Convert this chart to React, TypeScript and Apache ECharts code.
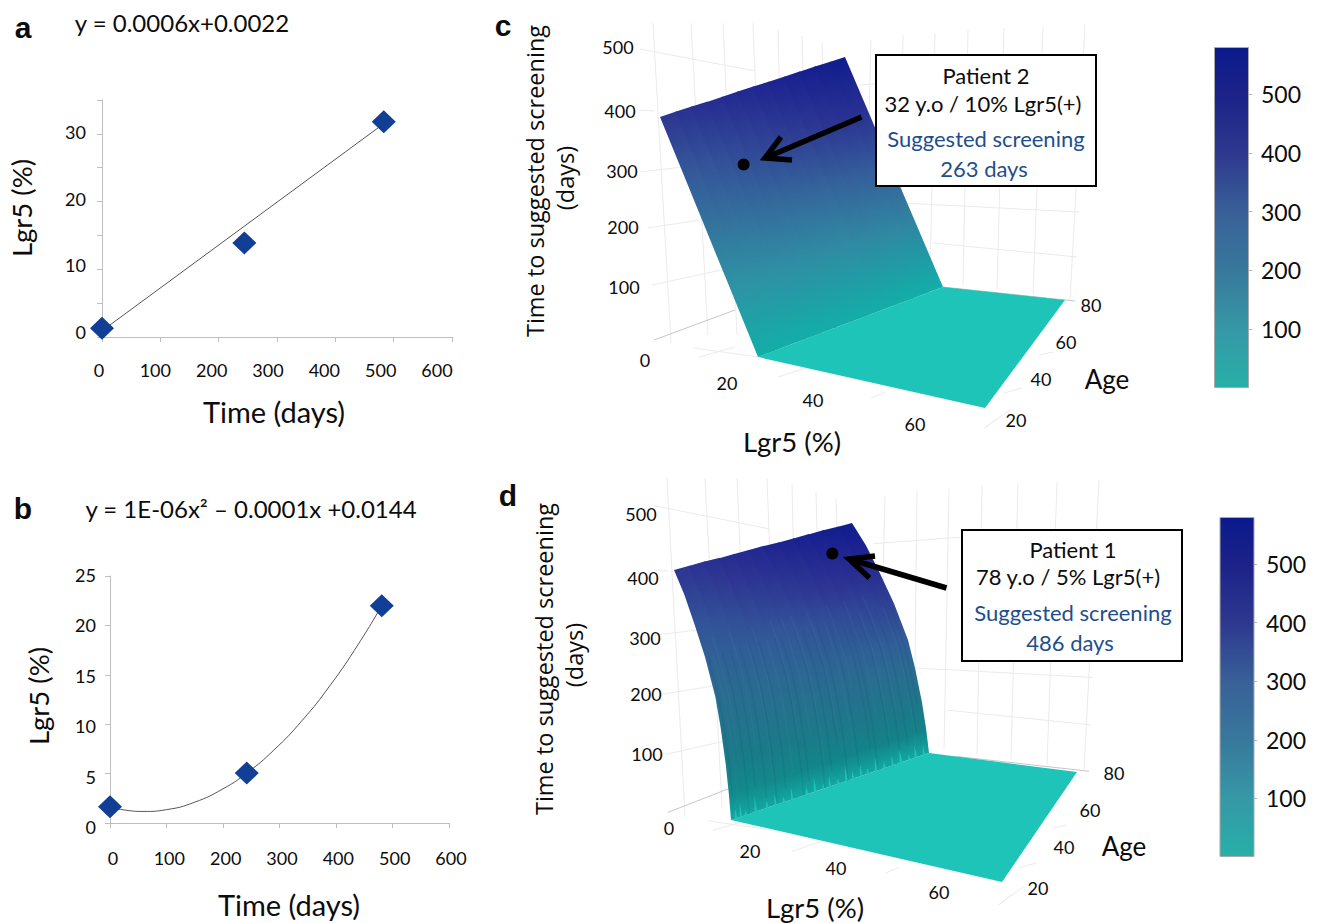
import React, { useEffect, useRef } from "react";
import * as echarts from "echarts";

const W = 1320;
const H = 923;
const SANS = "Lato, 'Open Sans', sans-serif";
const INK = "#0c0c0c";

// ---- panel a ----
const aPoints = [[0, 1.3], [244, 13.9], [483, 31.8]];
const aTrend = [[3, 1.1], [483, 31.5]];
// ---- panel b ----
const bPoints = [[0, 1.65], [242, 5.05], [481, 22]];
const bTrend = [[0, 1.6], [30, 1.28], [60, 1.17], [100, 1.35], [150, 2.11], [200, 3.46], [242, 5.05], [290, 7.38], [340, 10.37], [390, 13.96], [440, 18.14], [481, 22]];

// ---- surfaces ----
const surfaceAges = [20, 25, 30, 35, 40, 45, 50, 55, 60, 65, 70, 75, 80];
const cLgrRows = [1, 6, 11, 16, 22];
const cDays = [
  [395, 301, 207, 113, 0], [409, 312, 214, 117, 0], [423, 322, 222, 121, 0], [436, 332, 228, 125, 0],
  [450, 343, 236, 129, 0], [464, 354, 243, 133, 0], [478, 364, 250, 137, 0], [491, 374, 257, 140, 0],
  [505, 385, 265, 144, 0], [519, 395, 272, 148, 0], [533, 406, 279, 152, 0], [546, 416, 286, 156, 0],
  [560, 427, 293, 160, 0],
];
const dLgrRows = [1, 3, 5, 7, 9, 10, 11, 11.6, 12];
const dDays = [
  [395, 356, 308, 257, 194, 146, 87, 40, 0], [409, 368, 319, 266, 201, 151, 90, 41, 0],
  [423, 381, 330, 275, 208, 156, 93, 43, 0], [436, 393, 340, 284, 214, 161, 96, 44, 0],
  [450, 405, 351, 293, 221, 166, 99, 46, 0], [464, 418, 362, 302, 228, 171, 102, 47, 0],
  [478, 430, 372, 311, 235, 177, 105, 48, 0], [491, 443, 383, 320, 241, 182, 108, 50, 0],
  [505, 455, 394, 329, 248, 187, 111, 51, 0], [519, 467, 404, 337, 255, 192, 114, 53, 0],
  [533, 480, 415, 346, 262, 197, 117, 54, 0], [546, 492, 426, 355, 268, 202, 120, 55, 0],
  [560, 505, 437, 364, 275, 207, 123, 57, 0],
];
const floorLgrMax = 70;
// patient dots as drawn on the surfaces: [Lgr5 %, age, days]
const patient2Dot = [11, 32, 321];
const patient1Dot = [1.6, 72, 482];

// streaks on the wall of panel d: [age, rowFrom, rowTo, tone]
const dStreaks = [
  [21, 3, 7, 0], [22.5, 3, 7.5, 1], [24, 2.5, 6, 1], [25.5, 3, 8, 0], [28, 3, 7, 0], [29.5, 2.5, 6, 1], [31, 3, 7.6, 0],
  [33.5, 3, 7, 1], [34, 3, 8, 0], [36.5, 2.5, 5, 1], [37, 3, 7.5, 0], [39.5, 3, 7, 1], [42, 3, 8, 0], [42.5, 2.5, 6, 1],
  [44, 3, 7.5, 0], [46, 2.5, 6, 1], [48.5, 3, 8, 0], [49, 2.5, 7, 1], [51, 3, 7.4, 0], [53.5, 3, 6.5, 0], [54, 2.5, 6, 1],
  [55.5, 3, 8, 0], [58, 3, 7, 1], [59, 3, 7.6, 0], [60.5, 2.5, 5, 1], [63, 3, 7, 0], [64.5, 3, 8, 0], [66, 2.5, 6, 1],
  [68.5, 3, 7.2, 0], [69, 3, 7.8, 1], [71.5, 3, 8, 0], [72, 2.5, 6, 1], [74, 3, 7.4, 0], [76.5, 3, 8, 1], [77, 3, 7, 0], [78.5, 2.5, 6, 0],
];
// fringe spikes at the wall foot: [age, half width in years, height in rows]
const dSpikes = [
  [21.5, 0.45, 0.35], [23, 0.35, 0.55], [24.5, 0.4, 0.2], [27.5, 0.35, 0.65], [31, 0.45, 0.28], [33.5, 0.35, 0.45],
  [36, 0.45, 0.22], [38.5, 0.35, 0.5], [43, 0.45, 0.3], [45.5, 0.4, 0.6], [48, 0.35, 0.22], [50, 0.35, 0.45],
  [52.5, 0.45, 0.2], [55, 0.35, 0.65], [57, 0.4, 0.34], [59.5, 0.35, 0.5], [61.5, 0.45, 0.24], [64, 0.35, 0.6],
  [66.5, 0.4, 0.3], [69, 0.35, 0.45], [71.5, 0.45, 0.55], [74, 0.35, 0.25], [76, 0.4, 0.5], [78.5, 0.35, 0.4],
];

const colorbarStops = [
  [0, "#0a1a8c"], [0.137, "#1c2288"], [0.31, "#2d388e"], [0.483, "#396098"], [0.655, "#38789c"], [0.828, "#3698a6"], [1, "#27afa8"],
];
const paletteC = [[580, "#0a1a8c"], [500, "#1c2290"], [400, "#2c3592"], [300, "#365a9a"], [200, "#33789e"], [100, "#2d98a6"], [20, "#14aca8"], [0, "#12aea8"]];
const paletteD = [[580, "#0a1a8c"], [500, "#1c2290"], [400, "#2e3592"], [300, "#33589a"], [200, "#2a6c90"], [100, "#1b7a88"], [50, "#128488"], [0, "#12a8a2"]];
const FLOOR = "#1fc4b8";
const GRID3D = "#ebebeb";
const GRID3D_DARK = "#c6c6c6";

// view of each 3D scene: corners of the floor and of the wall's top edge on the page
const cView = { A: [758, 357], B: [943, 287], C: [1065, 300], D: [985, 408], E: [660, 117], F: [845, 57] };
const dView = { A: [731, 820], B: [929, 753], C: [1077, 772], D: [1002, 882], E: [674, 570], F: [852, 523] };

// faint frame of the 3D scene behind the surface in panel c: x1, y1, x2, y2
const sceneLines = [
  [653, 23, 671, 343], [691, 23, 708, 335], [723, 23, 737, 335], [753, 23, 760, 200], [778, 29, 782, 200], [802, 36, 805, 150], [822, 42, 824, 100],
  [871, 40, 865, 275], [903, 35, 900, 280], [935, 33, 930, 280], [968, 30, 963, 285], [1004, 28, 997, 290], [1043, 27, 1033, 295], [1085, 25, 1070, 300],
  [640, 49, 755, 71], [640, 110, 654, 111], [640, 172, 700, 165], [648, 228, 700, 220], [652, 285, 735, 267],
  [860, 85, 960, 78], [901, 203, 1079, 212], [933, 243, 1077, 257],
  [694, 348, 759, 357], [699, 357, 735, 347], [778, 377, 806, 368], [871, 398, 885, 392], [984, 428, 1010, 410],
  [1039, 355, 1053, 352], [1004, 393, 1022, 388], [986, 427, 998, 418],
];
const sceneDarkLines = [[654, 340, 735, 310], [943, 287, 1075, 301]];

const lerp = (a: number, b: number, t: number) => a + (b - a) * t;

// (Lgr5, age, days) -> page position in the scene's view
function makeProjection(view: any, lgrRows: number[], days: number[][]) {
  const lgrMin = lgrRows[0];
  const thr = lgrRows[lgrRows.length - 1];
  const topFirst = days[0][0];
  const topLast = days[days.length - 1][0];
  return (l: number, a: number, d: number) => {
    const v = (a - surfaceAges[0]) / (surfaceAges[surfaceAges.length - 1] - surfaceAges[0]);
    const bx = lerp(view.A[0], view.B[0], v), by = lerp(view.A[1], view.B[1], v);
    if (l >= thr) {
      const u = (l - thr) / (floorLgrMax - thr);
      const ex = lerp(view.D[0], view.C[0], v), ey = lerp(view.D[1], view.C[1], v);
      return [lerp(bx, ex, u), lerp(by, ey, u)];
    }
    const tx = lerp(view.E[0], view.F[0], v), ty = lerp(view.E[1], view.F[1], v);
    return [lerp(bx, tx, (thr - l) / (thr - lgrMin)), lerp(by, ty, d / lerp(topFirst, topLast, v))];
  };
}

function hex(c: string) {
  return [1, 3, 5].map((i) => parseInt(c.slice(i, i + 2), 16));
}
function paletteColor(pal: any[], days: number) {
  for (let i = 0; i < pal.length - 1; i++) {
    const [d1, c1] = pal[i];
    const [d0, c0] = pal[i + 1];
    if (days >= d0 && days <= d1) {
      const t = (days - d0) / (d1 - d0);
      const a = hex(c0), b = hex(c1);
      return `rgb(${a.map((v, k) => Math.round(v + (b[k] - v) * t)).join(",")})`;
    }
  }
  return pal[0][1];
}

function wallPoint(project: any, lgrRows: number[], days: number[][], age: number, row: number) {
  const cf = Math.min(surfaceAges.length - 1.001, Math.max(0, (age - surfaceAges[0]) / 5));
  const c = Math.floor(cf), ct = cf - c;
  const r = Math.min(lgrRows.length - 2, Math.floor(row)), rt = row - r;
  const dval = (cc: number) => days[cc][r] + (days[cc][r + 1] - days[cc][r]) * rt;
  const lgr = lgrRows[r] + (lgrRows[r + 1] - lgrRows[r]) * rt;
  return project(Math.min(lgr, lgrRows[lgrRows.length - 1] - 1e-6), age, dval(c) + (dval(c + 1) - dval(c)) * ct);
}

function surfaceSeries(view: any, lgrRows: number[], days: number[][], palette: any[], dot: number[], streaks?: number[][], spikes?: number[][]) {
  const project = makeProjection(view, lgrRows, days);
  const thr = lgrRows[lgrRows.length - 1];
  const surface = (api: any) => {
    const kids: any[] = [];
    const P = (l: number, a: number, d: number) => api.coord(project(l, a, d));
    const W0 = (i: number, r: number) => api.coord(wallPoint(project, lgrRows, days, surfaceAges[i], r));
    const floorPts = [P(thr, 20, 0), P(thr, 80, 0), P(floorLgrMax, 80, 0), P(floorLgrMax, 20, 0)];
    kids.push({ type: "polygon", shape: { points: floorPts }, style: { fill: FLOOR }, silent: true });
    const lastStrip = surfaceAges.length - 2;
    for (let i = 0; i <= lastStrip; i++) {
      const left = lgrRows.map((_l, r) => W0(i, r));
      const right = lgrRows.map((_l, r) => W0(i + 1, r));
      const mids = left.map((p: number[], r: number) => [(p[0] + right[r][0]) / 2, (p[1] + right[r][1]) / 2]);
      const dx = right[0][0] - left[0][0], dy = right[0][1] - left[0][1];
      const len = Math.hypot(dx, dy) || 1;
      let nx = -dy / len, ny = dx / len;
      if (ny < 0) { nx = -nx; ny = -ny; }
      const ts = mids.map((m: number[]) => (m[0] - mids[0][0]) * nx + (m[1] - mids[0][1]) * ny);
      const T = ts[ts.length - 1] || 1;
      const colorStops = ts.map((t: number, r: number) => ({
        offset: Math.max(0, Math.min(1, t / T)),
        color: paletteColor(palette, (days[i][r] + days[i + 1][r]) / 2),
      }));
      const grad = { type: "linear", x: mids[0][0], y: mids[0][1], x2: mids[0][0] + nx * T, y2: mids[0][1] + ny * T, global: true, colorStops };
      // each strip runs a little under the next one, so that no seam shows between them
      const overlap = i < lastStrip ? 1.5 : 0;
      const rightEdge = right.map((p: number[]) => [p[0] + overlap, p[1] - overlap * 0.35]).reverse();
      kids.push({
        type: "polygon",
        shape: { points: [...left, ...rightEdge] },
        style: { fill: grad },
        silent: true,
      });
    }
    for (const [age, from, to, tone] of streaks || []) {
      const pts: number[][] = [];
      for (let r = from; r < to; r += 0.5) pts.push(api.coord(wallPoint(project, lgrRows, days, age, r)));
      pts.push(api.coord(wallPoint(project, lgrRows, days, age, to)));
      kids.push({
        type: "polyline",
        shape: { points: pts },
        style: { stroke: tone ? "#4f8fb4" : "#0c4060", opacity: 0.1, lineWidth: 1.6, fill: "none" },
        silent: true,
      });
    }
    const last = lgrRows.length - 1;
    for (const [age, hw, h] of spikes || []) {
      kids.push({
        type: "polygon",
        shape: {
          points: [
            api.coord(wallPoint(project, lgrRows, days, age - hw, last)),
            api.coord(wallPoint(project, lgrRows, days, age, last - h)),
            api.coord(wallPoint(project, lgrRows, days, age + hw, last)),
          ],
        },
        style: { fill: "#1cc4b8" },
        silent: true,
      });
    }
    const d = P(dot[0], dot[1], dot[2]);
    kids.push({ type: "circle", shape: { cx: d[0], cy: d[1], r: 6 }, style: { fill: "#000" }, silent: true });
    return { type: "group", children: kids };
  };
  return [
    { type: "custom", xAxisIndex: 6, yAxisIndex: 6, clip: false, z: 2, data: [[0, 0]], renderItem: (_: any, api: any) => surface(api) },
  ];
}

const tickAxis = (gridIndex: number, min: number, max: number, interval: number) => ({
  gridIndex, type: "value", min, max, interval,
  axisLine: { show: true, onZero: false, lineStyle: { color: "#bdbdbd", width: 1 } },
  axisTick: { show: true, inside: false, length: 5, lineStyle: { color: "#bdbdbd" } },
  axisLabel: { show: false },
  splitLine: { show: false },
});
const labelAxis = (gridIndex: number, min: number, max: number, interval: number, margin: number) => ({
  gridIndex, type: "value", min, max, interval,
  axisLine: { show: false },
  axisTick: { show: false },
  axisLabel: { show: true, margin, color: INK, fontFamily: SANS, fontSize: 18, hideOverlap: false, showMinLabel: true, showMaxLabel: true },
  splitLine: { show: false },
});
const box = (x0: number, x1: number, y0: number, y1: number) => ({ left: x0, width: x1 - x0, top: y0, height: y1 - y0, containLabel: false });

const barTicks = [100, 200, 300, 400, 500];
const barAxis = (gridIndex: number) => ({
  gridIndex, type: "value", min: 0, max: 580, position: "right",
  axisLine: { show: false },
  axisTick: { show: true, length: 3, customValues: barTicks, lineStyle: { color: "#b5b5b5" } },
  axisLabel: { margin: 12, color: INK, fontFamily: SANS, fontSize: 23, customValues: barTicks },
  splitLine: { show: false },
});
const colorbar = (idx: number) => ({
  type: "bar", xAxisIndex: idx, yAxisIndex: idx, barWidth: 35, data: [580],
  itemStyle: {
    borderColor: "#a9a9a9", borderWidth: 1,
    color: { type: "linear", x: 0, y: 0, x2: 0, y2: 1, colorStops: colorbarStops.map(([offset, color]) => ({ offset, color })) },
  },
});

const text = (t: string, x: number, y: number, fontSize: number, extra: any = {}) => ({
  type: "text", x, y, z: 100, rotation: extra.rotation || 0, silent: true,
  style: { text: t, fontSize, fontFamily: extra.family || SANS, fontWeight: extra.weight || "normal", fill: extra.fill || INK, align: "center", verticalAlign: "middle" },
});
const BLUE = "#1f4e8c";
const arrow = (pts: number[][]) => ({ type: "polyline", z: 99, silent: true, shape: { points: pts }, style: { stroke: "#000", lineWidth: 5.5, fill: "none" } });
const sceneLine = (l: number[], stroke: string, map: (x: number, y: number) => number[]) => {
  const [x1, y1] = map(l[0], l[1]);
  const [x2, y2] = map(l[2], l[3]);
  return { type: "line", z: 0, silent: true, shape: { x1, y1, x2, y2 }, style: { stroke, lineWidth: 1 } };
};
const sameFrame = (x: number, y: number) => [x, y];
const frameD = (x: number, y: number) => [x + 14, 454 + 1.054 * y];

const titleFamily = "'Open Sans', sans-serif";
const bold = { weight: "bold", family: "'Liberation Sans', sans-serif" };
const graphics = [
  ...sceneLines.map((l) => sceneLine(l, GRID3D, sameFrame)),
  ...sceneDarkLines.map((l) => sceneLine(l, GRID3D_DARK, sameFrame)),
  ...sceneLines.map((l) => sceneLine(l, GRID3D, frameD)),
  ...sceneDarkLines.map((l) => sceneLine(l, GRID3D_DARK, frameD)),
  text("a", 23, 27, 30, bold),
  text("b", 23, 508, 30, bold),
  text("c", 503, 25, 30, bold),
  text("d", 508, 495, 30, bold),
  text("y = 0.0006x+0.0022", 182, 22, 24),
  text("y = 1E-06x² – 0.0001x +0.0144", 251, 508, 24),
  text("Time (days)", 274, 411, 29),
  text("Lgr5 (%)", 21, 208, 27.5, { rotation: Math.PI / 2 }),
  text("Time (days)", 289, 904, 29),
  text("Lgr5 (%)", 38, 696, 27.5, { rotation: Math.PI / 2 }),
  // panel c axes
  ...[["500", 618, 47], ["400", 620, 111], ["300", 622, 171], ["200", 623, 227], ["100", 624, 287], ["0", 645, 360], ["20", 727, 383], ["40", 813, 400], ["60", 915, 424], ["80", 1091, 305], ["60", 1066, 342], ["40", 1041, 379], ["20", 1016, 420]].map(([t, x, y]: any) => text(t, x, y, 18)),
  text("Age", 1107, 379, 26),
  text("Lgr5 (%)", 792, 441, 27.5),
  text("Time to suggested screening", 535, 181, 23.5, { rotation: Math.PI / 2, family: titleFamily }),
  text("(days)", 565, 178, 23.5, { rotation: Math.PI / 2, family: titleFamily }),
  // panel d axes
  ...[["500", 641, 514], ["400", 643, 578], ["300", 645, 638], ["200", 646, 694], ["100", 647, 754], ["0", 669, 828], ["20", 750, 851], ["40", 836, 868], ["60", 939, 892], ["80", 1114, 773], ["60", 1090, 810], ["40", 1064, 847], ["20", 1038, 888]].map(([t, x, y]: any) => text(t, x, y, 18)),
  text("Age", 1124, 846, 26),
  text("Lgr5 (%)", 815, 907, 27.5),
  text("Time to suggested screening", 544, 659, 23.5, { rotation: Math.PI / 2, family: titleFamily }),
  text("(days)", 574, 655, 23.5, { rotation: Math.PI / 2, family: titleFamily }),
  // callouts
  { type: "rect", z: 98, silent: true, shape: { x: 876, y: 55, width: 220, height: 131 }, style: { fill: "#fff", stroke: "#000", lineWidth: 2 } },
  text("Patient 2", 986, 75, 22),
  text("32 y.o / 10% Lgr5(+)", 983, 103, 22),
  text("Suggested screening", 986, 138, 22, { fill: BLUE }),
  text("263 days", 984, 168, 22, { fill: BLUE }),
  arrow([[861.5, 117], [765, 158]]),
  arrow([[781, 137], [765, 158], [792, 160]]),
  { type: "rect", z: 98, silent: true, shape: { x: 962, y: 530, width: 220, height: 131 }, style: { fill: "#fff", stroke: "#000", lineWidth: 2 } },
  text("Patient 1", 1073, 549, 22),
  text("78 y.o / 5% Lgr5(+)", 1068, 576, 22),
  text("Suggested screening", 1073, 612, 22, { fill: BLUE }),
  text("486 days", 1070, 642, 22, { fill: BLUE }),
  arrow([[946.5, 588], [849, 559]]),
  arrow([[875, 556], [849, 559], [869.5, 578]]),
];

const markerColor = "#123f96";
const trend = (x: number, data: number[][], smooth: boolean) => ({
  type: "line", xAxisIndex: x, yAxisIndex: x, data, smooth, symbol: "none", z: 3,
  lineStyle: { color: "#555555", width: 1 },
});
const scatter = (x: number, data: number[][]) => ({
  type: "scatter", xAxisIndex: x, yAxisIndex: x, data, symbol: "diamond", symbolSize: [24, 23], z: 4,
  itemStyle: { color: markerColor, opacity: 1 },
});

export default function App() {
  const ref = useRef<HTMLDivElement>(null);
  useEffect(() => {
    const chart = echarts.init(ref.current!, null, { renderer: "svg" });
    chart.setOption({
      animation: false,
      backgroundColor: "#ffffff",
      grid: [
        box(102, 452, 100, 337), box(99, 437, 132, 332),
        box(110, 449, 576, 823), box(113, 451, 575, 827),
        box(1214, 1249, 47, 388), box(1220, 1254, 517, 857),
        box(0, W, 0, H),
      ],
      xAxis: [
        tickAxis(0, 0, 600, 100),
        labelAxis(1, 0, 600, 100, 29),
        tickAxis(2, 0, 600, 100),
        labelAxis(3, 0, 600, 100, 22),
        { gridIndex: 4, type: "category", data: ["days"], show: false },
        { gridIndex: 5, type: "category", data: ["days"], show: false },
        { gridIndex: 6, type: "value", min: 0, max: W, show: false },
      ],
      yAxis: [
        tickAxis(0, 0, 35, 5),
        labelAxis(1, 0, 30, 10, 13),
        tickAxis(2, 0, 25, 5),
        labelAxis(3, 0, 25, 5, 17),
        barAxis(4),
        barAxis(5),
        { gridIndex: 6, type: "value", min: 0, max: H, inverse: true, show: false },
      ],
      series: [
        trend(0, aTrend, false),
        scatter(0, aPoints),
        { type: "scatter", xAxisIndex: 1, yAxisIndex: 1, data: [] },
        trend(2, bTrend, true),
        scatter(2, bPoints),
        { type: "scatter", xAxisIndex: 3, yAxisIndex: 3, data: [] },
        colorbar(4),
        colorbar(5),
        ...surfaceSeries(cView, cLgrRows, cDays, paletteC, patient2Dot),
        ...surfaceSeries(dView, dLgrRows, dDays, paletteD, patient1Dot, dStreaks, dSpikes),
      ],
      graphic: { elements: graphics },
    });
    return () => chart.dispose();
  }, []);
  return <div ref={ref} style={{ position: "absolute", left: 0, top: 0, width: W, height: H }} />;
}
